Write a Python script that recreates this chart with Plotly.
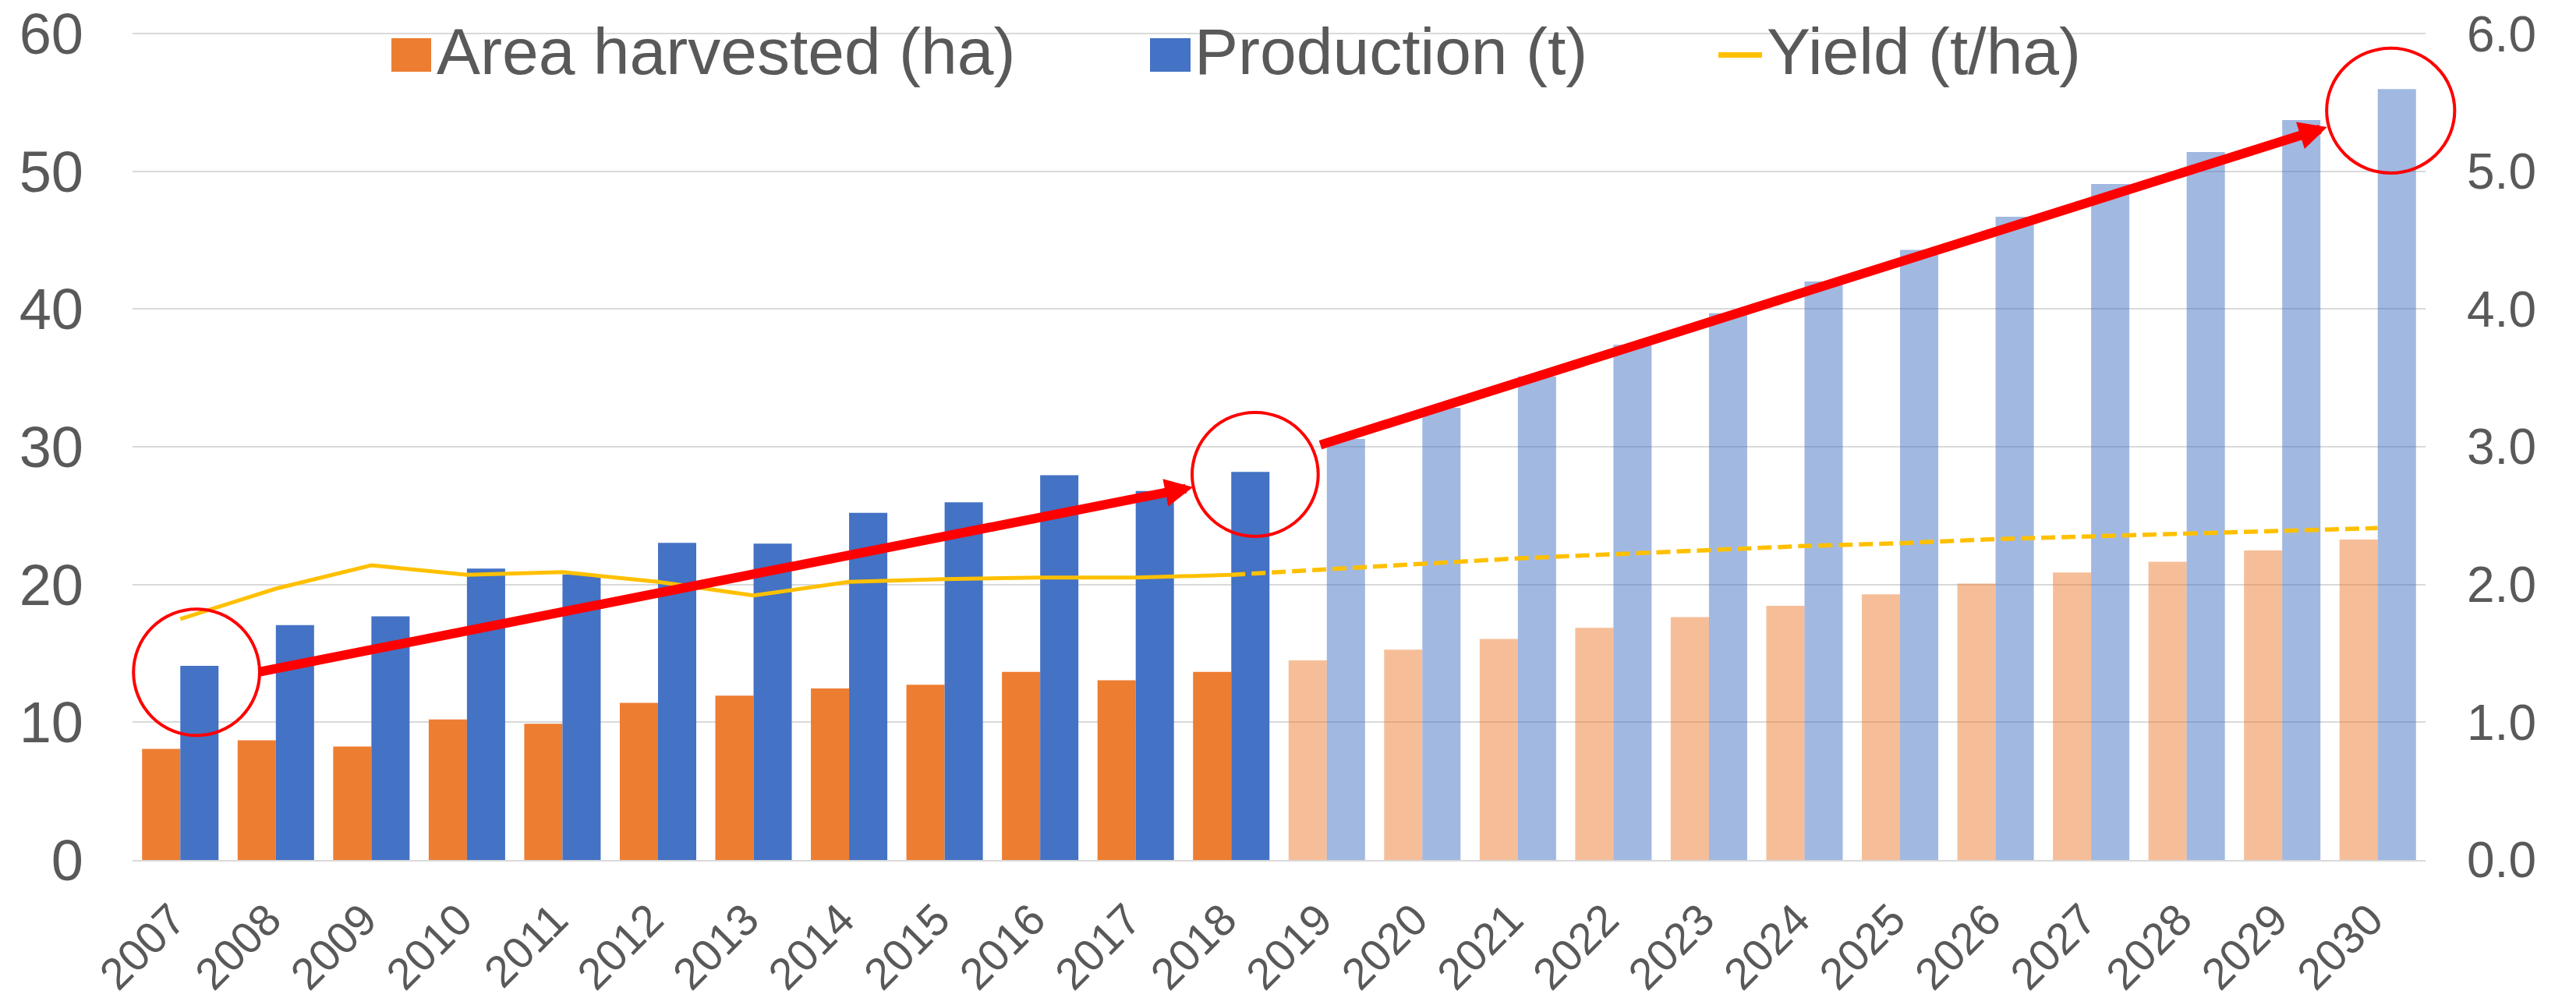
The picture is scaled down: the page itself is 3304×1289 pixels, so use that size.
import plotly.graph_objects as go

# ---------------- data ----------------
years = ["2007", "2008", "2009", "2010", "2011", "2012", "2013", "2014", "2015", "2016", "2017", "2018",
         "2019", "2020", "2021", "2022", "2023", "2024", "2025", "2026", "2027", "2028", "2029", "2030"]
area_harvested = [8.06, 8.69, 8.24, 10.21, 9.89, 11.40, 11.93, 12.46, 12.72, 13.66, 13.05, 13.66,
                  14.49, 15.27, 16.05, 16.86, 17.64, 18.45, 19.29, 20.07, 20.88, 21.66, 22.47, 23.26]
production = [14.09, 17.06, 17.69, 21.16, 20.72, 23.02, 22.97, 25.21, 25.97, 27.94, 26.79, 28.18,
              30.57, 32.84, 35.11, 37.40, 39.70, 42.00, 44.30, 46.70, 49.08, 51.40, 53.73, 55.97]
yield_hist_years = years[:12]
yield_hist = [1.75, 1.97, 2.14, 2.07, 2.09, 2.02, 1.92, 2.02, 2.04, 2.05, 2.05, 2.07]
yield_proj_years = years[11:]
yield_proj = [2.07, 2.11, 2.15, 2.19, 2.22, 2.25, 2.28, 2.30, 2.33, 2.35, 2.37, 2.39, 2.41]
n_hist = 12  # 2007-2018 observed, 2019-2030 projected

legend_labels = ["Area harvested (ha)", "Production (t)", "Yield (t/ha)"]

# ---------------- styles ----------------
FONT = "Liberation Sans, Arial, sans-serif"
TXT = "#595959"
ORANGE = "#ED7D31"
ORANGE_L = "rgba(237,125,49,0.5)"
BLUE = "#4472C4"
BLUE_L = "rgba(68,114,196,0.5)"
YELLOW = "#FFC000"
RED = "#FF0000"
GRID = "#D9D9D9"

W, H = 3304, 1289
ML, MR, MT, MB = 170, 193, 41, 186
PW, PH = W - ML - MR, H - MT - MB
Y_MAX = 60.12
N_CAT = len(years)

area_colors = [ORANGE if i < n_hist else ORANGE_L for i in range(N_CAT)]
prod_colors = [BLUE if i < n_hist else BLUE_L for i in range(N_CAT)]

fig = go.Figure()
fig.add_trace(go.Bar(x=years, y=area_harvested, name=legend_labels[0],
                     marker=dict(color=area_colors, line=dict(width=0)), showlegend=False))
fig.add_trace(go.Bar(x=years, y=production, name=legend_labels[1],
                     marker=dict(color=prod_colors, line=dict(width=0)), showlegend=False))
fig.add_trace(go.Scatter(x=yield_hist_years, y=yield_hist, yaxis="y2", mode="lines",
                         line=dict(color=YELLOW, width=5), showlegend=False))
fig.add_trace(go.Scatter(x=yield_proj_years, y=yield_proj, yaxis="y2", mode="lines",
                         line=dict(color=YELLOW, width=5.5, dash="18px,8px"), showlegend=False))


def px2paper(px, py):
    return (px - ML) / PW, (H - MB - py) / PH


def data2paper(ix, v):
    # category index / left-axis value -> paper coordinates
    return (ix + 0.5) / N_CAT, v / Y_MAX


shapes = []
annotations = []

# custom legend
for (x0, x1, col) in [(502, 553, ORANGE), (1475, 1527, BLUE)]:
    a0, b0 = px2paper(x0, 92)
    a1, b1 = px2paper(x1, 49)
    shapes.append(dict(type="rect", xref="paper", yref="paper", x0=a0, x1=a1, y0=b0, y1=b1,
                       fillcolor=col, line=dict(width=0), layer="above"))
a0, b0 = px2paper(2204, 70.5)
a1, _ = px2paper(2260, 70.5)
shapes.append(dict(type="line", xref="paper", yref="paper", x0=a0, x1=a1, y0=b0, y1=b0,
                   line=dict(color=YELLOW, width=7), layer="above"))
for lab, tx in zip(legend_labels, [558, 1530, 2264]):
    a, b = px2paper(tx, 66)
    annotations.append(dict(text=lab, xref="paper", yref="paper", x=a, y=b, xanchor="left",
                            yanchor="middle", showarrow=False,
                            font=dict(family=FONT, size=84, color=TXT)))

# highlight circles (category index / left-axis units), drawn in paper coords so not clipped
for cx, cy, rx, ry in [(0.17, 13.63, 0.66, 4.59), (11.25, 28.0, 0.66, 4.5), (23.135, 54.41, 0.67, 4.53)]:
    a0, b0 = data2paper(cx - rx, cy - ry)
    a1, b1 = data2paper(cx + rx, cy + ry)
    shapes.append(dict(type="circle", xref="paper", yref="paper", x0=a0, x1=a1,
                       y0=b0, y1=b1, line=dict(color=RED, width=4), layer="above"))

# trend arrows
for (tx, ty, hx, hy) in [(0.81, 13.63, 10.60, 27.07), (11.92, 30.11, 22.47, 53.22)]:
    annotations.append(dict(text="", x=hx, y=hy, xref="x", yref="y", ax=tx, ay=ty,
                            axref="x", ayref="y", showarrow=True, arrowhead=2, arrowsize=0.6,
                            arrowwidth=12, arrowcolor=RED, standoff=0, startstandoff=0))

fig.update_layout(
    width=W, height=H,
    margin=dict(l=ML, r=MR, t=MT, b=MB, pad=0, autoexpand=False),
    paper_bgcolor="white", plot_bgcolor="white",
    barmode="group", bargap=0.2, bargroupgap=0,
    font=dict(family=FONT, color=TXT),
    showlegend=False,
    shapes=shapes, annotations=annotations,
    xaxis=dict(type="category", tickangle=-45, tickfont=dict(size=57, color=TXT, family=FONT),
               showgrid=False, showline=True, linecolor=GRID, linewidth=2, ticks="",
               ticklabelstandoff=18, ticklabelshift=-10,
               range=[-0.5, N_CAT - 0.5], automargin=False),
    yaxis=dict(range=[0, Y_MAX], tickvals=[0, 10, 20, 30, 40, 50, 60],
               tickfont=dict(size=74, color=TXT, family=FONT),
               showgrid=True, gridcolor=GRID, gridwidth=2, zeroline=False, ticks="",
               ticklabelstandoff=62, automargin=False),
    yaxis2=dict(range=[0, Y_MAX / 10], tickvals=[0, 1, 2, 3, 4, 5, 6], tickformat=".1f",
                overlaying="y", side="right",
                tickfont=dict(size=64, color=TXT, family=FONT), showgrid=False, zeroline=False,
                ticks="", ticklabelstandoff=52, automargin=False),
)

fig.write_html("out.html", config={"displayModeBar": False},
               post_script="document.body.style.margin='0px';")
